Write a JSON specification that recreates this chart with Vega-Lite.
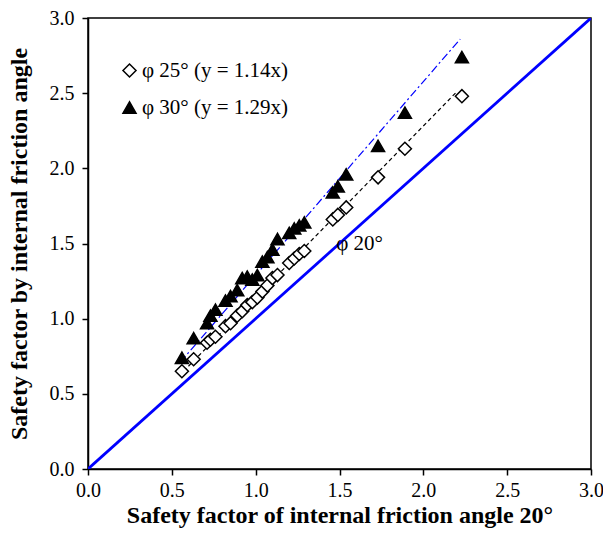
{
  "$schema": "https://vega.github.io/schema/vega-lite/v6.json",
  "autosize": {"type": "none"},
  "padding": {"left": 88, "top": 18, "right": 12, "bottom": 69},
  "width": 503,
  "height": 451,
  "background": "white",
  "config": {
    "view": {"stroke": "black", "strokeWidth": 1.5},
    "font": "Liberation Serif",
    "axis": {
      "grid": false,
      "domainColor": "black",
      "domainWidth": 1.5,
      "tickColor": "black",
      "tickWidth": 1.5,
      "tickSize": 6,
      "labelFlush": false,
      "labelFont": "Liberation Serif",
      "labelFontSize": 20,
      "labelColor": "black",
      "titleFont": "Liberation Serif",
      "titleFontSize": 24,
      "titleFontWeight": "bold",
      "titleColor": "black"
    },
    "legend": {
      "title": null,
      "orient": "none",
      "legendX": 31,
      "legendY": 42,
      "labelFont": "Liberation Serif",
      "labelFontSize": 21,
      "labelColor": "black",
      "symbolSize": 170,
      "symbolStrokeColor": "black",
      "symbolStrokeWidth": 1.5,
      "rowPadding": 15,
      "labelOffset": 2,
      "padding": 0
    }
  },
  "datasets": {
    "cases": [
      {"sf20": 0.56, "sf": 0.65, "series": "φ 25° (y = 1.14x)"},
      {"sf20": 0.63, "sf": 0.73, "series": "φ 25° (y = 1.14x)"},
      {"sf20": 0.71, "sf": 0.84, "series": "φ 25° (y = 1.14x)"},
      {"sf20": 0.73, "sf": 0.86, "series": "φ 25° (y = 1.14x)"},
      {"sf20": 0.76, "sf": 0.88, "series": "φ 25° (y = 1.14x)"},
      {"sf20": 0.82, "sf": 0.95, "series": "φ 25° (y = 1.14x)"},
      {"sf20": 0.85, "sf": 0.97, "series": "φ 25° (y = 1.14x)"},
      {"sf20": 0.89, "sf": 1.02, "series": "φ 25° (y = 1.14x)"},
      {"sf20": 0.92, "sf": 1.05, "series": "φ 25° (y = 1.14x)"},
      {"sf20": 0.95, "sf": 1.09, "series": "φ 25° (y = 1.14x)"},
      {"sf20": 0.98, "sf": 1.11, "series": "φ 25° (y = 1.14x)"},
      {"sf20": 1.01, "sf": 1.14, "series": "φ 25° (y = 1.14x)"},
      {"sf20": 1.04, "sf": 1.18, "series": "φ 25° (y = 1.14x)"},
      {"sf20": 1.07, "sf": 1.22, "series": "φ 25° (y = 1.14x)"},
      {"sf20": 1.10, "sf": 1.27, "series": "φ 25° (y = 1.14x)"},
      {"sf20": 1.13, "sf": 1.29, "series": "φ 25° (y = 1.14x)"},
      {"sf20": 1.20, "sf": 1.37, "series": "φ 25° (y = 1.14x)"},
      {"sf20": 1.23, "sf": 1.40, "series": "φ 25° (y = 1.14x)"},
      {"sf20": 1.26, "sf": 1.43, "series": "φ 25° (y = 1.14x)"},
      {"sf20": 1.29, "sf": 1.45, "series": "φ 25° (y = 1.14x)"},
      {"sf20": 1.46, "sf": 1.66, "series": "φ 25° (y = 1.14x)"},
      {"sf20": 1.49, "sf": 1.69, "series": "φ 25° (y = 1.14x)"},
      {"sf20": 1.54, "sf": 1.74, "series": "φ 25° (y = 1.14x)"},
      {"sf20": 1.73, "sf": 1.94, "series": "φ 25° (y = 1.14x)"},
      {"sf20": 1.89, "sf": 2.13, "series": "φ 25° (y = 1.14x)"},
      {"sf20": 2.23, "sf": 2.48, "series": "φ 25° (y = 1.14x)"},
      {"sf20": 0.56, "sf": 0.74, "series": "φ 30° (y = 1.29x)"},
      {"sf20": 0.63, "sf": 0.87, "series": "φ 30° (y = 1.29x)"},
      {"sf20": 0.71, "sf": 0.97, "series": "φ 30° (y = 1.29x)"},
      {"sf20": 0.73, "sf": 1.02, "series": "φ 30° (y = 1.29x)"},
      {"sf20": 0.76, "sf": 1.06, "series": "φ 30° (y = 1.29x)"},
      {"sf20": 0.82, "sf": 1.12, "series": "φ 30° (y = 1.29x)"},
      {"sf20": 0.85, "sf": 1.15, "series": "φ 30° (y = 1.29x)"},
      {"sf20": 0.89, "sf": 1.19, "series": "φ 30° (y = 1.29x)"},
      {"sf20": 0.92, "sf": 1.27, "series": "φ 30° (y = 1.29x)"},
      {"sf20": 0.95, "sf": 1.28, "series": "φ 30° (y = 1.29x)"},
      {"sf20": 0.98, "sf": 1.26, "series": "φ 30° (y = 1.29x)"},
      {"sf20": 1.01, "sf": 1.29, "series": "φ 30° (y = 1.29x)"},
      {"sf20": 1.04, "sf": 1.38, "series": "φ 30° (y = 1.29x)"},
      {"sf20": 1.07, "sf": 1.41, "series": "φ 30° (y = 1.29x)"},
      {"sf20": 1.10, "sf": 1.46, "series": "φ 30° (y = 1.29x)"},
      {"sf20": 1.13, "sf": 1.53, "series": "φ 30° (y = 1.29x)"},
      {"sf20": 1.20, "sf": 1.57, "series": "φ 30° (y = 1.29x)"},
      {"sf20": 1.23, "sf": 1.60, "series": "φ 30° (y = 1.29x)"},
      {"sf20": 1.26, "sf": 1.62, "series": "φ 30° (y = 1.29x)"},
      {"sf20": 1.29, "sf": 1.64, "series": "φ 30° (y = 1.29x)"},
      {"sf20": 1.46, "sf": 1.84, "series": "φ 30° (y = 1.29x)"},
      {"sf20": 1.49, "sf": 1.88, "series": "φ 30° (y = 1.29x)"},
      {"sf20": 1.54, "sf": 1.96, "series": "φ 30° (y = 1.29x)"},
      {"sf20": 1.73, "sf": 2.15, "series": "φ 30° (y = 1.29x)"},
      {"sf20": 1.89, "sf": 2.37, "series": "φ 30° (y = 1.29x)"},
      {"sf20": 2.23, "sf": 2.74, "series": "φ 30° (y = 1.29x)"}
    ],
    "equal": [
      {"sf20": 0, "sf": 0},
      {"sf20": 3, "sf": 3}
    ],
    "fit25": [
      {"sf20": 0.57, "sf": 0.65},
      {"sf20": 2.20, "sf": 2.51}
    ],
    "fit30": [
      {"sf20": 0.55, "sf": 0.71},
      {"sf20": 2.22, "sf": 2.86}
    ],
    "note": [
      {"sf20": 1.62, "sf": 1.50, "label": "φ 20°"}
    ]
  },
  "layer": [
    {
      "data": {"name": "equal"},
      "mark": {"type": "line", "color": "#0000ff", "strokeWidth": 2.8, "clip": true},
      "encoding": {
        "x": {"field": "sf20", "type": "quantitative"},
        "y": {"field": "sf", "type": "quantitative"}
      }
    },
    {
      "data": {"name": "fit25"},
      "mark": {"type": "line", "color": "black", "strokeWidth": 1.2, "strokeDash": [4, 3]},
      "encoding": {
        "x": {"field": "sf20", "type": "quantitative"},
        "y": {"field": "sf", "type": "quantitative"}
      }
    },
    {
      "data": {"name": "fit30"},
      "mark": {"type": "line", "color": "#0000ff", "strokeWidth": 1.2, "strokeDash": [8, 3, 2, 3]},
      "encoding": {
        "x": {"field": "sf20", "type": "quantitative"},
        "y": {"field": "sf", "type": "quantitative"}
      }
    },
    {
      "data": {"name": "cases"},
      "mark": {"type": "point", "filled": true, "strokeWidth": 1.5, "opacity": 1, "size": 170},
      "encoding": {
        "x": {
          "field": "sf20", "type": "quantitative",
          "scale": {"domain": [0, 3], "nice": false},
          "axis": {
            "values": [0, 0.5, 1, 1.5, 2, 2.5, 3], "format": ".1f",
            "labelPadding": 5, "title": "Safety factor of  internal  friction  angle 20°",
            "titlePadding": 3
          }
        },
        "y": {
          "field": "sf", "type": "quantitative",
          "scale": {"domain": [0, 3], "nice": false},
          "axis": {
            "values": [0, 0.5, 1, 1.5, 2, 2.5, 3], "format": ".1f",
            "labelPadding": 8, "title": "Safety factor by internal  friction  angle",
            "titlePadding": 18
          }
        },
        "shape": {
          "field": "series", "type": "nominal",
          "scale": {"domain": ["φ 25° (y = 1.14x)", "φ 30° (y = 1.29x)"], "range": ["diamond", "triangle-up"]}
        },
        "fill": {
          "field": "series", "type": "nominal",
          "scale": {"domain": ["φ 25° (y = 1.14x)", "φ 30° (y = 1.29x)"], "range": ["white", "black"]}
        },
        "stroke": {
          "field": "series", "type": "nominal",
          "scale": {"domain": ["φ 25° (y = 1.14x)", "φ 30° (y = 1.29x)"], "range": ["black", "black"]}
        }
      }
    },
    {
      "data": {"name": "note"},
      "mark": {"type": "text", "font": "Liberation Serif", "fontSize": 21, "fill": "black", "align": "center", "baseline": "middle"},
      "encoding": {
        "x": {"field": "sf20", "type": "quantitative"},
        "y": {"field": "sf", "type": "quantitative"},
        "text": {"field": "label"}
      }
    }
  ]
}
